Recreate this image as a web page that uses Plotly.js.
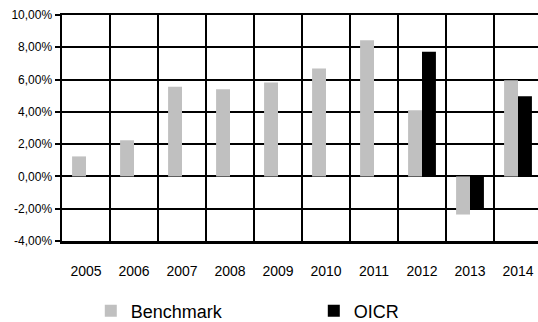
<!DOCTYPE html>
<html>
<head>
<meta charset="utf-8">
<script src="https://cdn.plot.ly/plotly-3.0.1.min.js"></script>
<style>
html,body{margin:0;padding:0;overflow:hidden;background:#fff;}
#chart{width:548px;height:345px;}
</style>
</head>
<body>
<div id="chart"></div>
<script>
const years = ["2005","2006","2007","2008","2009","2010","2011","2012","2013","2014"];
const benchmark = [1.24, 2.24, 5.55, 5.40, 5.82, 6.69, 8.43, 4.10, -2.36, 5.96];
const oicr = [null, null, null, null, null, null, null, 7.72, -2.08, 4.97];
const yTicks = [-4, -2, 0, 2, 4, 6, 8, 10];
const yTickText = yTicks.map(v => v.toFixed(2).replace(".", ",") + "%");

const traces = [
  {type:"bar", name:"Benchmark", x:years, y:benchmark, marker:{color:"#c0c0c0"}},
  {type:"bar", name:"OICR", x:years, y:oicr, marker:{color:"#000000"}}
];

const layout = {
  width:548, height:345,
  margin:{l:62, r:6, t:15, b:104},
  paper_bgcolor:"#fff", plot_bgcolor:"#fff",
  font:{family:"Liberation Sans, Arial, sans-serif", color:"#000"},
  barmode:"group", bargap:0.42, bargroupgap:0,
  showlegend:true,
  legend:{orientation:"h", x:0.06, y:-0.31, xanchor:"left", yanchor:"middle",
          font:{size:18, color:"#000"}, entrywidth:178, entrywidthmode:"pixels",
          traceorder:"normal"},
  xaxis:{type:"category", tickson:"boundaries", showgrid:true, gridcolor:"#000", gridwidth:2,
         showline:true, linecolor:"#000", linewidth:2.5, mirror:true,
         ticks:"", tickfont:{size:14, color:"#000"}, ticklabelstandoff:16, fixedrange:true},
  yaxis:{range:[-4,10], tickvals:yTicks, ticktext:yTickText,
         showgrid:true, gridcolor:"#000", gridwidth:2,
         zeroline:true, zerolinecolor:"#000", zerolinewidth:2,
         showline:true, linecolor:"#000", linewidth:2.5, mirror:true,
         ticks:"outside", ticklen:5, tickwidth:2, tickcolor:"#000",
         tickfont:{size:12, color:"#000"}, fixedrange:true}
};

Plotly.newPlot("chart", traces, layout, {staticPlot:true, displayModeBar:false});
</script>
</body>
</html>
